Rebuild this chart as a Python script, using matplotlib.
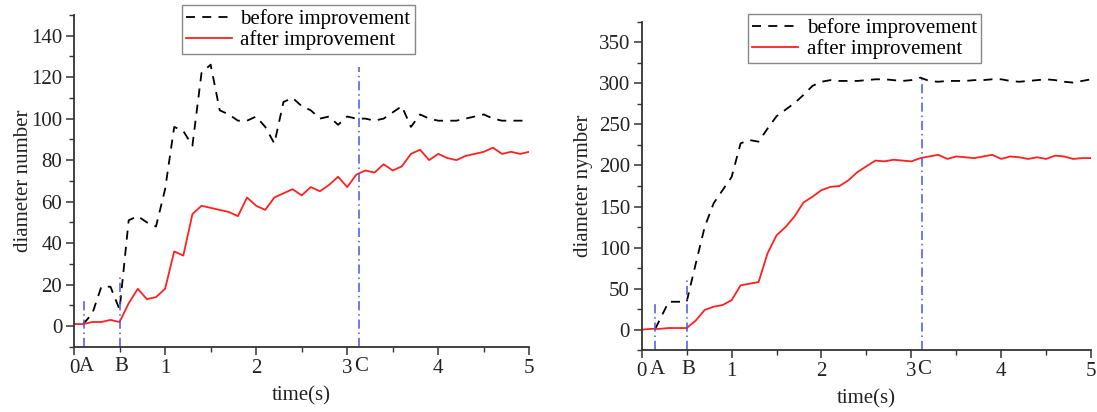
import numpy as np
import matplotlib.pyplot as plt
from matplotlib.ticker import MultipleLocator
import matplotlib.transforms as mtransforms

plt.rcParams['font.family'] = ['Liberation Serif', 'DejaVu Serif']

# time axis (s), sampled every 0.1 s
t_all = np.round(np.arange(0, 51) * 0.1, 1)

# left chart: diameter number
left_before = [1, 6, 19, 19, 8, 51, 53, 50, 48, 66,
               96, 94, 87, 122, 126, 104, 102, 99, 99, 101,
               96, 88, 108, 110, 106, 104, 100, 101, 97, 101,
               100, 100, 99, 100, 103, 106, 96, 102, 100, 99,
               99, 99, 100, 101, 102, 100, 99, 99, 99, 99]
left_after = [1, 1, 2, 2, 3, 2, 11, 18, 13, 14, 18,
              36, 34, 54, 58, 57, 56, 55, 53, 62, 58,
              56, 62, 64, 66, 63, 67, 65, 68, 72, 67,
              73, 75, 74, 78, 75, 77, 83, 85, 80, 83,
              81, 80, 82, 83, 84, 86, 83, 84, 83, 84]

# right chart: diameter nymber
right_before_t = [0.15, 0.3, 0.4, 0.5, 0.6, 0.7, 0.8, 0.9, 1.0,
                  1.1, 1.2, 1.3, 1.4, 1.5, 1.6, 1.7, 1.8, 1.9, 2.0,
                  2.1, 2.2, 2.3, 2.4, 2.5, 2.6, 2.7, 2.8, 2.9, 3.0,
                  3.1, 3.2, 3.3, 3.4, 3.5, 3.6, 3.7, 3.8, 3.9, 4.0,
                  4.1, 4.2, 4.3, 4.4, 4.5, 4.6, 4.7, 4.8, 4.9, 5.0]
right_before = [1, 34, 34, 34, 80, 125, 154, 170, 186,
                227, 231, 229, 245, 260, 268, 276, 286, 297, 302,
                304, 303, 303, 303, 304, 305, 305, 304, 303, 304,
                307, 303, 302, 303, 303, 303, 304, 304, 305, 305,
                303, 302, 303, 304, 305, 304, 302, 301, 303, 305]
right_after = [0, 1, 1, 2, 2, 2, 11, 24, 28, 30, 36,
               54, 56, 58, 93, 115, 125, 138, 155, 162, 170,
               174, 175, 182, 192, 199, 206, 205, 207, 206, 205,
               209, 211, 213, 208, 211, 210, 209, 211, 213, 208,
               211, 210, 208, 210, 208, 212, 211, 208, 209, 209]

mark_labels = ['A', 'B', 'C']
left_marks = [0.11, 0.5, 3.13]
left_mark_tops = [13, 25, 125]
right_marks = [0.15, 0.5, 3.12]
right_mark_tops = [34, 63, 310]

fig = plt.figure(figsize=(10.97, 4.12), dpi=100)
ax1 = fig.add_axes([0.0675, 0.158, 0.415, 0.806])
ax2 = fig.add_axes([0.585, 0.150, 0.4096, 0.797])

blue = '#4a55e0'
fs = 15


def style_axes(ax, ylim, ymajor, yminor, ylabel, ypad):
    ax.set_xlim(0, 5)
    ax.set_ylim(*ylim)
    ax.spines['top'].set_visible(False)
    ax.spines['right'].set_visible(False)
    for s in ['left', 'bottom']:
        ax.spines[s].set_linewidth(1.3)
        ax.spines[s].set_color('#333333')
    ax.xaxis.set_major_locator(MultipleLocator(1))
    ax.xaxis.set_minor_locator(MultipleLocator(0.5))
    ax.yaxis.set_major_locator(MultipleLocator(ymajor))
    ax.yaxis.set_minor_locator(MultipleLocator(yminor))
    ax.tick_params(which='major', direction='out', length=6, width=1.1,
                   labelsize=fs, color='#333333', labelcolor='#222222', pad=2.5)
    ax.tick_params(which='minor', direction='out', length=3.5, width=1.0,
                   color='#333333')
    ax.set_xlabel('time(s)', fontsize=fs, labelpad=6, color='#222222')
    ax.set_ylabel(ylabel, fontsize=fs, labelpad=ypad, color='#222222')


def draw_marks(ax, marks, tops, ymin):
    trans = mtransforms.blended_transform_factory(ax.transData, ax.transAxes)
    for x, top, lab in zip(marks, tops, mark_labels):
        ax.plot([x, x], [ymin, top], color=blue, lw=1.1,
                linestyle=(0, (6, 2.5, 1, 2.5)))
        ax.text(x + 0.02, -0.03, lab, transform=trans, ha='center', va='top',
                fontsize=fs, color='#222222')


# left chart
ax1.plot(t_all[1:], left_before, color='black', lw=1.3, linestyle=(0, (5, 4)),
         label='before improvement')
ax1.plot(t_all, left_after, color='#ff2020', lw=1.3, label='after improvement')
style_axes(ax1, (-10, 150), 20, 10, 'diameter number', -1.5)
draw_marks(ax1, left_marks, left_mark_tops, -10)
leg1 = ax1.legend(loc='upper left', bbox_to_anchor=(0.237, 1.03), borderaxespad=0,
                  fontsize=fs, handlelength=2.2, fancybox=False, framealpha=1,
                  borderpad=0.2, labelspacing=0.05, handletextpad=0.4)
leg1.get_frame().set_edgecolor('#888888')

# right chart
ax2.plot(right_before_t, right_before, color='black', lw=1.3,
         linestyle=(0, (5, 4)), label='before improvement')
ax2.plot(t_all, right_after, color='#ff2020', lw=1.3, label='after improvement')
style_axes(ax2, (-25, 375), 50, 25, 'diameter nymber', 4)
draw_marks(ax2, right_marks, right_mark_tops, -25)
leg2 = ax2.legend(loc='upper left', bbox_to_anchor=(0.237, 1.023), borderaxespad=0,
                  fontsize=fs, handlelength=2.2, fancybox=False, framealpha=1,
                  borderpad=0.2, labelspacing=0.05, handletextpad=0.4)
leg2.get_frame().set_edgecolor('#888888')

fig.savefig('out.png', dpi=100)
